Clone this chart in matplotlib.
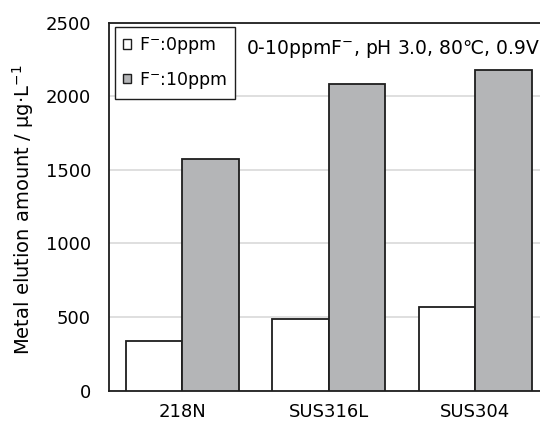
import numpy as np
import matplotlib
matplotlib.use("Agg")
import matplotlib.pyplot as plt
from matplotlib.patches import Patch

plt.rcParams['font.family'] = ['DejaVu Sans']
plt.rcParams['mathtext.fontset'] = 'dejavusans'

# data
alloys = ["218N", "SUS316L", "SUS304"]
f0_ppm = [340, 490, 570]
f10_ppm = [1570, 2080, 2175]
series_labels = [r"F$^{\mathrm{-}}$:0ppm", r"F$^{\mathrm{-}}$:10ppm"]
y_ticks = [0, 500, 1000, 1500, 2000, 2500]

gray = "#b4b5b7"
edge = "#1e1e1e"

fig = plt.figure(figsize=(5.4, 4.23), dpi=100)
# axes runs off the right side of the picture, as in the original crop
ax = fig.add_axes([109 / 540, 32.3 / 423, 439.5 / 540, 368.2 / 423])

x = np.arange(len(alloys))
w = 0.384
ax.bar(x - w / 2, f0_ppm, w, color="white", edgecolor=edge, linewidth=1.3, zorder=3)
ax.bar(x + w / 2, f10_ppm, w, color=gray, edgecolor=edge, linewidth=1.3, zorder=3)

ax.set_xlim(-0.5, 2.5)
ax.set_ylim(0, 2500)
ax.set_yticks(y_ticks)
ax.set_xticks(x)
ax.set_xticklabels(alloys)
ax.tick_params(length=0, labelsize=13, colors="black")
ax.tick_params(axis="y", pad=13)
ax.tick_params(axis="x", pad=9)
ax.yaxis.grid(True, color="#d9d9d9", linewidth=1.2, zorder=0)
ax.set_axisbelow(True)
for s in ax.spines.values():
    s.set_color(edge)
    s.set_linewidth(1.3)

ax.set_ylabel(r"Metal elution amount / μg·L$^{\mathrm{-1}}$", fontsize=14)
ax.yaxis.set_label_coords(-0.165, 0.491)

handles = [Patch(facecolor="white", edgecolor=edge, linewidth=1.0),
           Patch(facecolor=gray, edgecolor=edge, linewidth=1.0)]
leg = ax.legend(handles, series_labels, loc="upper left",
                bbox_to_anchor=(115 / 540, 1 - 27 / 423), bbox_transform=fig.transFigure,
                fontsize=12.5, handlelength=0.5, handleheight=0.5, handletextpad=0.45,
                labelspacing=0.8, borderpad=0.45, borderaxespad=0,
                fancybox=False, framealpha=1, edgecolor=edge)
leg.get_frame().set_linewidth(1.0)

fig.text(246 / 540, 1 - 49 / 423, r"0-10ppmF$^{\mathrm{-}}$, pH 3.0, 80℃, 0.9V",
         fontsize=13.5, va="center", ha="left")

fig.savefig("out.png", dpi=100)
